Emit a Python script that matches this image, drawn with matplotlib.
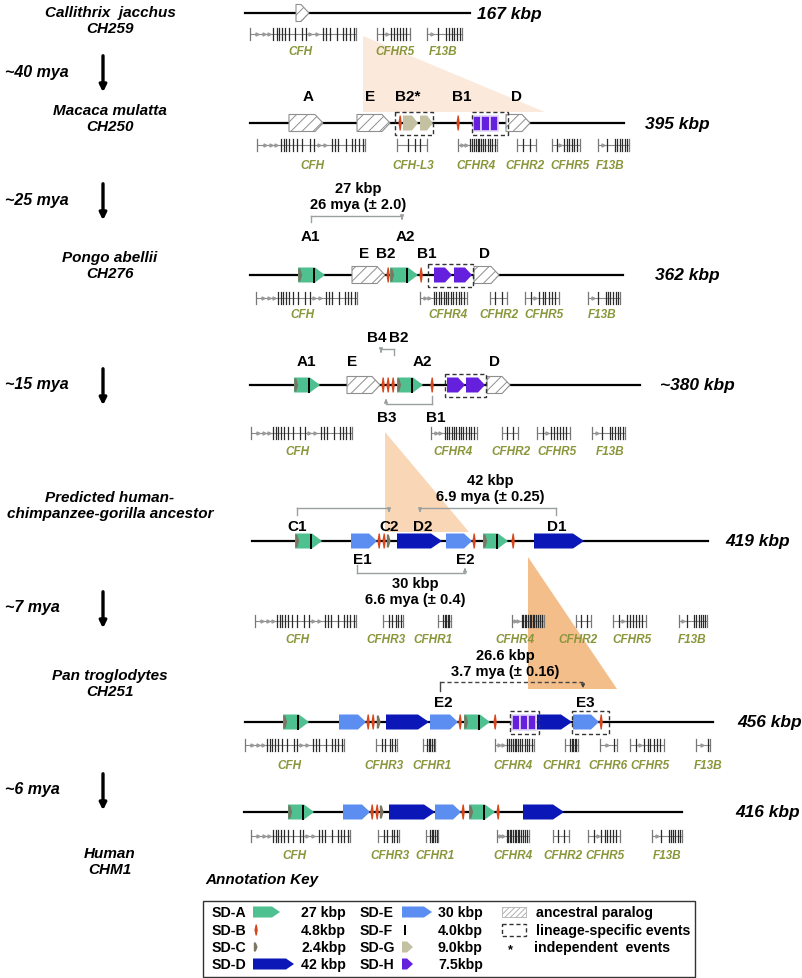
import matplotlib.pyplot as plt
import matplotlib as mpl
from matplotlib.patches import Polygon, Rectangle

mpl.rcParams['hatch.linewidth'] = 0.7
FONT = ['Liberation Sans', 'DejaVu Sans']

GREEN = '#4fc08f'
RED = '#d8461b'
GRAYC = '#7b7563'
DBLUE = '#0b17b6'
LBLUE = '#5b8ef0'
BEIGE = '#c4c0a2'
PURPLE = '#6420dc'
OLIVE = '#8a963a'
BRACKET = '#9aa0a0'

# ---- species / time column ----
species = ['Callithrix  jacchus\nCH259', 'Macaca mulatta\nCH250', 'Pongo abellii\nCH276',
           'Predicted human-\nchimpanzee-gorilla ancestor', 'Pan troglodytes\nCH251', 'Human\nCHM1']
species_y = [21, 119, 266, 506, 684, 862]
times = ['~40 mya', '~25 mya', '~15 mya', '~7 mya', '~6 mya']
times_y = [72, 200, 385, 608, 790]

# ---- backbone of each haplotype ----
line_y = [14, 124, 276, 386, 542, 723, 813]
line_x0 = [245, 250, 250, 250, 252, 245, 244]
line_x1 = [470, 624, 623, 640, 708, 713, 682]
sizes = ['167 kbp', '395 kbp', '362 kbp', '~380 kbp', '419 kbp', '456 kbp', '416 kbp']
sizes_x = [477, 645, 655, 660, 725, 737, 735]

# ---- duplication blocks (kind, start, end) ----
blocks_callithrix = [('hatch', 296, 309)]
blocks_macaca = [('hatch', 289, 323), ('hatch', 357, 390), ('B', 400, 400), ('G', 403, 418),
                 ('G', 420, 433), ('B', 458, 458), ('Hsq', 473, 498), ('hatch', 506, 530)]
blocks_pongo = [('A', 298, 325), ('hatch', 352, 385), ('B', 388, 388), ('A', 390, 418),
                ('B', 421, 421), ('H', 434, 452), ('H', 454, 472), ('hatch', 474, 499)]
blocks_15mya = [('A', 294, 320), ('hatch', 347, 380), ('B', 383, 383), ('B', 388, 388),
                ('B', 393, 393), ('A', 397, 423), ('B', 432, 432), ('H', 447, 465),
                ('H', 466, 485), ('hatch', 487, 510)]
blocks_ancestor = [('A', 295, 322), ('E', 351, 377), ('B', 379, 379), ('B', 384, 384),
                   ('C', 388, 388), ('D', 397, 442), ('E', 446, 472), ('B', 474, 474),
                   ('A', 483, 508), ('B', 513, 513), ('D', 534, 584)]
blocks_pan = [('A', 283, 309), ('E', 339, 366), ('B', 368, 368), ('B', 373, 373),
              ('C', 378, 378), ('D', 386, 429), ('E', 430, 458), ('B', 460, 460),
              ('A', 464, 490), ('B', 495, 495), ('Hsq', 512, 536), ('D', 537, 572),
              ('E', 573, 599), ('B', 601, 601)]
blocks_human = [('A', 288, 314), ('E', 343, 370), ('B', 372, 372), ('B', 377, 377),
                ('C', 381, 381), ('D', 389, 435), ('E', 435, 461), ('B', 463, 463),
                ('A', 469, 495), ('B', 498, 498), ('D', 523, 564)]
all_blocks = [blocks_callithrix, blocks_macaca, blocks_pongo, blocks_15mya,
              blocks_ancestor, blocks_pan, blocks_human]

# lineage-specific dashed boxes (row, start, end)
dashed_boxes = [(1, 395, 433), (1, 472, 508), (2, 428, 473), (3, 445, 486),
                (5, 510, 539), (5, 572, 609)]

# block labels (text, x, y)
block_labels = [('A', 308, 97), ('E', 370, 97), ('B2*', 408, 97), ('B1', 462, 97), ('D', 516, 97),
                ('A1', 310, 237), ('A2', 405, 237), ('E', 364, 254), ('B2', 386, 254),
                ('B1', 427, 254), ('D', 484, 254),
                ('B4', 377, 338), ('B2', 399, 338), ('A1', 306, 362), ('E', 352, 362),
                ('A2', 422, 362), ('D', 495, 362), ('B3', 387, 418), ('B1', 436, 418),
                ('C1', 297, 527), ('C2', 389, 527), ('D2', 423, 527), ('D1', 557, 527),
                ('E1', 362, 560), ('E2', 465, 560), ('E2', 443, 703), ('E3', 585, 703)]

# ---- genes (name, start, end, exon pattern, label x) ----
genes_callithrix = [('CFH', 250, 356, 'CFH', 300), ('CFHR5', 377, 410, 'CFHR5', 395),
                    ('F13B', 427, 462, 'F13B', 443)]
genes_macaca = [('CFH', 257, 365, 'CFH', 312), ('CFH-L3', 397, 427, 'CFH-L3', 413),
                ('CFHR4', 458, 497, 'CFHR4', 476), ('CFHR2', 517, 536, 'CFHR2', 525),
                ('CFHR5', 552, 580, 'CFHR5', 570), ('F13B', 598, 629, 'F13B', 610)]
genes_pongo = [('CFH', 256, 357, 'CFH', 302), ('CFHR4', 420, 467, 'CFHR4', 448),
               ('CFHR2', 490, 507, 'CFHR2', 499), ('CFHR5', 525, 559, 'CFHR5', 544),
               ('F13B', 588, 620, 'F13B', 602)]
genes_15mya = [('CFH', 251, 352, 'CFH', 297), ('CFHR4', 431, 477, 'CFHR4', 453),
               ('CFHR2', 502, 518, 'CFHR2', 511), ('CFHR5', 537, 570, 'CFHR5', 557),
               ('F13B', 592, 625, 'F13B', 610)]
genes_ancestor = [('CFH', 255, 356, 'CFH', 297), ('CFHR3', 383, 403, 'CFHR3', 386),
                  ('CFHR1', 438, 451, 'CFHR1', 433), ('CFHR4', 512, 544, 'CFHR4', 515),
                  ('CFHR2', 576, 591, 'CFHR2', 578), ('CFHR5', 613, 646, 'CFHR5', 632),
                  ('F13B', 679, 707, 'F13B', 692)]
genes_pan = [('CFH', 245, 344, 'CFH', 289), ('CFHR3', 376, 397, 'CFHR3', 384),
             ('CFHR1', 423, 435, 'CFHR1', 432), ('CFHR4', 495, 534, 'CFHR4', 513),
             ('CFHR1', 565, 578, 'CFHR1', 562), ('CFHR6', 600, 617, 'CFHR6', 608),
             ('CFHR5', 630, 664, 'CFHR5', 650), ('F13B', 696, 710, 'CFHR6', 708)]
genes_human = [('CFH', 251, 350, 'CFH', 294), ('CFHR3', 378, 399, 'CFHR3', 390),
               ('CFHR1', 426, 438, 'CFHR1', 435), ('CFHR4', 497, 529, 'CFHR4', 513),
               ('CFHR2', 553, 569, 'CFHR2', 563), ('CFHR5', 588, 620, 'CFHR5', 605),
               ('F13B', 652, 682, 'F13B', 667)]
all_genes = [genes_callithrix, genes_macaca, genes_pongo, genes_15mya,
             genes_ancestor, genes_pan, genes_human]
gene_y = [35, 146, 299, 434, 622, 746, 837]
gene_label_y = [52, 166, 315, 452, 640, 766, 856]

exon_frac = {
    'CFH': [0, .22, .25, .27, .30, .33, .37, .42, .49, .53, .69, .72, .75, .82, .88, .91, .94, .98, 1.0],
    'CFH-L3': [0, .35, .6, .75, 1.0],
    'CFHR1': [0, .35, .5, .62, .75, .88, 1.0],
    'CFHR2': [0, .3, .7, 1.0],
    'CFHR3': [0, .3, .45, .65, .75, .9, 1.0],
    'CFHR4': [0, .3, .35, .4, .45, .5, .55, .6, .65, .7, .76, .82, .88, .94, 1.0],
    'CFHR5': [0, .18, .42, .52, .6, .7, .78, .88, 1.0],
    'CFHR6': [0, .85, 1.0],
    'F13B': [0, .3, .55, .62, .7, .78, .86, .93, 1.0],
}
intron_arrows = {'CFH': [.07, .13, .18, .57, .63], 'CFHR4': [.1, .2], 'CFHR5': [.3],
                 'F13B': [.15], 'CFHR6': [.4]}

# ---- divergence brackets (x_left, x_right, y, tick_y, arrow_side, dashed) ----
brackets = [(311, 402, 217, 223, 'right', False), (381, 394, 350, 356, 'left', False),
            (386, 432, 405, 397, 'left', False), (297, 389, 509, 516, 'right', False),
            (420, 556, 509, 516, 'left', False), (357, 465, 574, 566, 'right', False),
            (440, 583, 683, 692, 'right', True)]
bracket_texts = ['27 kbp\n26 mya (± 2.0)', '42 kbp\n6.9 mya (± 0.25)',
                 '30 kbp\n6.6 mya (± 0.4)', '26.6 kbp\n3.7 mya (± 0.16)']
bracket_text_xy = [(358, 197), (490, 489), (415, 592), (505, 664)]

# expansion triangles
triangles = [[(363, 37), (363, 113), (545, 113)],
             [(385, 433), (385, 533), (469, 533)],
             [(528, 558), (528, 690), (617, 690)]]
triangle_colors = ['#fbeadb', '#f8d6b6', '#f3be8a']

fig = plt.figure(figsize=(8.02, 9.79), dpi=100)
ax = fig.add_axes([0, 0, 1, 1])
ax.set_xlim(0, 802)
ax.set_ylim(979, 0)
ax.axis('off')


def arrow_block(x0, x1, y, color, h=15, tip=None, hatch=None, ec='none', lw=0, z=3):
    if tip is None:
        tip = min(10, 0.4 * (x1 - x0))
    pts = [(x0, y - h / 2), (x1 - tip, y - h / 2), (x1, y), (x1 - tip, y + h / 2), (x0, y + h / 2)]
    ax.add_patch(Polygon(pts, closed=True, facecolor=color, edgecolor=ec,
                         hatch=hatch, lw=lw, zorder=z))


def red_mark(x, y, h=15):
    pts = [(x - 1.6, y), (x - 0.4, y - h / 2), (x + 0.8, y - h / 2), (x + 1.8, y),
           (x + 0.8, y + h / 2), (x - 0.4, y + h / 2)]
    ax.add_patch(Polygon(pts, closed=True, facecolor=RED, edgecolor='none', zorder=4))


def c_mark(x, y, h=15):
    pts = [(x - 1.2, y - h / 2 + 1), (x + 0.8, y - h / 2 + 1), (x + 2.6, y),
           (x + 0.8, y + h / 2 - 1), (x - 1.2, y + h / 2 - 1)]
    ax.add_patch(Polygon(pts, closed=True, facecolor=GRAYC, edgecolor='none', zorder=4))


def draw_block(kind, x0, x1, y, h=15):
    if kind == 'A':
        tip = min(10, 0.4 * (x1 - x0))
        arrow_block(x0, x1, y, GREEN, h, tip)
        c_mark(x0 + 1.5, y, h)
        ax.add_patch(Rectangle((x1 - tip - 2.5, y - h / 2), 2.4, h, fc='black', ec='none', zorder=4))
    elif kind == 'B':
        red_mark(x0, y, h)
    elif kind == 'C':
        c_mark(x0, y, h)
    elif kind == 'D':
        arrow_block(x0, x1, y, DBLUE, h, 11)
    elif kind == 'E':
        arrow_block(x0, x1, y, LBLUE, h, 8)
    elif kind == 'G':
        arrow_block(x0, x1, y, BEIGE, h, 6)
    elif kind == 'H':
        arrow_block(x0, x1, y, PURPLE, h, 7)
    elif kind == 'Hsq':
        w = (x1 - x0) / 3
        for k in range(3):
            ax.add_patch(Rectangle((x0 + k * w, y - h / 2), w, h, fc=PURPLE,
                                   ec='#e2d8fa', lw=1.2, zorder=3))
    elif kind == 'hatch':
        arrow_block(x0, x1, y, 'white', h + 2, 8, hatch='///', ec='#8f8f8f', lw=0.8)


def draw_gene(pattern, x0, x1, y):
    ax.plot([x0, x1], [y, y], color='#8a8a8a', lw=0.8, zorder=2)
    for f in exon_frac[pattern]:
        x = x0 + f * (x1 - x0)
        c = '#777777' if f in (0, 1.0) else '#2b2b2b'
        ax.plot([x, x], [y - 6, y + 6], color=c, lw=0.9, zorder=2)
    for f in intron_arrows.get(pattern, []):
        ax.plot(x0 + f * (x1 - x0), y, marker='>', ms=2.2, color='#9a9a9a', zorder=2)


# triangles behind everything
for tri, col in zip(triangles, triangle_colors):
    ax.add_patch(Polygon(tri, closed=True, facecolor=col, edgecolor='none', zorder=0))

# species and time column
for txt, y in zip(species, species_y):
    ax.text(110, y, txt, ha='center', va='center', fontsize=11, fontweight='bold',
            style='italic', family=FONT, linespacing=1.2)
for txt, y in zip(times, times_y):
    ax.text(5, y, txt, ha='left', va='center', fontsize=11.5, fontweight='bold',
            style='italic', family=FONT)
    ax.annotate('', xy=(103, y + 24), xytext=(103, y - 18),
                arrowprops=dict(arrowstyle='-|>', color='black', lw=2.4, mutation_scale=10))

# haplotypes
for i in range(len(line_y)):
    ax.plot([line_x0[i], line_x1[i]], [line_y[i], line_y[i]], color='black', lw=1.6, zorder=1)
    ax.text(sizes_x[i], line_y[i], sizes[i], ha='left', va='center', fontsize=12.5,
            fontweight='bold', style='italic', family=FONT)
    for kind, x0, x1 in all_blocks[i]:
        draw_block(kind, x0, x1, line_y[i])
    for name, x0, x1, pat, lx in all_genes[i]:
        draw_gene(pat, x0, x1, gene_y[i])
        ax.text(lx, gene_label_y[i], name, ha='center', va='center', fontsize=8.5,
                fontweight='bold', style='italic', color=OLIVE, family=FONT)

for row, x0, x1 in dashed_boxes:
    y = line_y[row]
    ax.add_patch(Rectangle((x0, y - 11.5), x1 - x0, 23, fill=False, ec='#333333', lw=1.0,
                           ls=(0, (3, 2)), zorder=5))

for txt, x, y in block_labels:
    ax.text(x, y, txt, ha='center', va='center', fontsize=11, fontweight='bold', family=FONT)

for xl, xr, y, ty, side, dashed in brackets:
    col = '#444444' if dashed else BRACKET
    ls = (0, (3, 2)) if dashed else '-'
    ax.plot([xl, xr], [y, y], color=col, lw=1.0, ls=ls, zorder=2)
    for x, s in ((xl, 'left'), (xr, 'right')):
        if s == side:
            ax.annotate('', xy=(x, ty), xytext=(x, y),
                        arrowprops=dict(arrowstyle='-|>', color=col, lw=1.0, mutation_scale=5))
        else:
            ax.plot([x, x], [y, ty], color=col, lw=1.0, zorder=2)

for txt, (x, y) in zip(bracket_texts, bracket_text_xy):
    ax.text(x, y, txt, ha='center', va='center', fontsize=10.5, fontweight='bold',
            family=FONT, linespacing=1.1, zorder=6)

# ---- annotation key ----
key_names_left = ['SD-A', 'SD-B', 'SD-C', 'SD-D']
key_sizes_left = ['27 kbp', '4.8kbp', '2.4kbp', '42 kbp']
key_names_mid = ['SD-E', 'SD-F', 'SD-G', 'SD-H']
key_sizes_mid = ['30 kbp', '4.0kbp', '9.0kbp', '7.5kbp']
key_notes = ['ancestral paralog', 'lineage-specific events', 'independent  events']
key_y = [913, 931, 948, 965]

ax.text(205, 880, 'Annotation Key', ha='left', va='center', fontsize=11,
        fontweight='bold', style='italic', family=FONT)
ax.add_patch(Rectangle((203, 902), 492, 76, fill=False, ec='#333333', lw=1.0))
kw = dict(ha='left', va='center', fontsize=10.2, fontweight='bold', family=FONT)
for i, y in enumerate(key_y):
    ax.text(212, y, key_names_left[i], **kw)
    ax.text(301, y, key_sizes_left[i], **kw)
    ax.text(360, y, key_names_mid[i], **kw)
    ax.text(438, y, key_sizes_mid[i], **kw)
arrow_block(253, 280, key_y[0], GREEN, 11, 8)
red_mark(256, key_y[1], 11)
c_mark(255, key_y[2], 11)
arrow_block(253, 294, key_y[3], DBLUE, 11, 8)
arrow_block(402, 432, key_y[0], LBLUE, 11, 8)
ax.add_patch(Rectangle((404, key_y[1] - 5), 2, 10, fc='black', ec='none'))
arrow_block(402, 413, key_y[2], BEIGE, 11, 6)
arrow_block(402, 413, key_y[3], PURPLE, 11, 6)
ax.add_patch(Rectangle((502, key_y[0] - 5), 24, 10, fc='white', ec='#b0b0b0', hatch='//////', lw=0.6))
ax.add_patch(Rectangle((502, key_y[1] - 6), 24, 12, fill=False, ec='#333333', lw=1.0, ls=(0, (3, 2))))
ax.text(510, key_y[2] + 2, '*', ha='center', va='center', fontsize=9, fontweight='bold', family=FONT)
for i, note in enumerate(key_notes):
    ax.text(536 if i < 2 else 534, key_y[i], note, **kw)

fig.savefig('out.png', dpi=100, facecolor='white')
